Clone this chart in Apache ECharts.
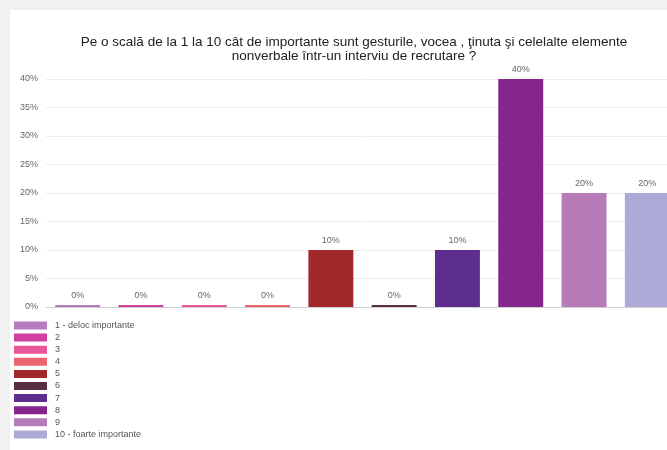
<!DOCTYPE html>
<html>
<head>
<meta charset="utf-8">
<script src="https://cdn.jsdelivr.net/npm/echarts@6/dist/echarts.min.js"></script>
<style>
  html, body { margin: 0; padding: 0; background: #f1f1f1; overflow: hidden; width: 667px; height: 450px; }
  #chart { position: absolute; left: 10px; top: 10px; width: 669px; height: 470px; background: #ffffff; }
</style>
</head>
<body>
<div id="chart"></div>
<script>
// Answer options on the 1–10 scale
const categories = ['1 - deloc importante', '2', '3', '4', '5', '6', '7', '8', '9', '10 - foarte importante'];
// Share of respondents per option (%)
const values = [0, 0, 0, 0, 10, 0, 10, 40, 20, 20];
const colors = ['#b67cbe', '#d040a0', '#ea5799', '#ec6470', '#a2282c', '#5a2e42', '#5e2e8e', '#86258b', '#b87bb9', '#aeaad7'];
const yTicks = { min: 0, max: 40, interval: 5 };
const titleText = 'Pe o scală de la 1 la 10 cât de importante sunt gesturile, vocea , ţinuta şi celelalte elemente\nnonverbale într-un interviu de recrutare ?';

const series = categories.map((name, i) => ({
  name: name,
  type: 'bar',
  stack: 'scale',
  barWidth: '71%',
  barMinHeight: 2,
  itemStyle: { color: colors[i] },
  label: {
    show: true,
    position: 'top',
    distance: 5,
    formatter: '{c}%',
    color: '#666',
    fontSize: 9,
    fontFamily: 'Liberation Sans, Arial, sans-serif'
  },
  data: categories.map((_, j) => (j === i ? values[i] : '-'))
}));

const chart = echarts.init(document.getElementById('chart'), null, { renderer: 'canvas' });
chart.setOption({
  animation: false,
  color: colors,
  title: {
    text: titleText,
    left: 344,
    top: 25,
    textAlign: 'center',
    padding: 0,
    textStyle: {
      fontFamily: 'Liberation Sans, Arial, sans-serif',
      fontSize: 13.5,
      fontWeight: 'normal',
      color: '#222',
      lineHeight: 14
    }
  },
  legend: {
    orient: 'vertical',
    left: 4,
    top: 311,
    padding: 0,
    icon: 'rect',
    itemWidth: 33,
    itemHeight: 8,
    itemGap: 3.1,
    textStyle: {
      fontFamily: 'Liberation Sans, Arial, sans-serif',
      fontSize: 9,
      color: '#555',
      lineHeight: 8,
      padding: [0, 0, 0, 3]
    },
    data: categories
  },
  grid: {
    left: 36,
    right: 0,
    top: 69,
    bottom: 173,
    containLabel: false
  },
  xAxis: {
    type: 'category',
    data: categories,
    axisLabel: { show: false },
    axisTick: { show: false },
    axisLine: { lineStyle: { color: '#d0d0d0', width: 1 } }
  },
  yAxis: {
    type: 'value',
    min: yTicks.min,
    max: yTicks.max,
    interval: yTicks.interval,
    axisLabel: {
      formatter: '{value}%',
      color: '#666',
      fontSize: 9,
      margin: 8,
      fontFamily: 'Liberation Sans, Arial, sans-serif'
    },
    axisLine: { show: false },
    axisTick: { show: false },
    splitLine: { lineStyle: { color: '#ececec', width: 1 } }
  },
  series: series
});
</script>
</body>
</html>
